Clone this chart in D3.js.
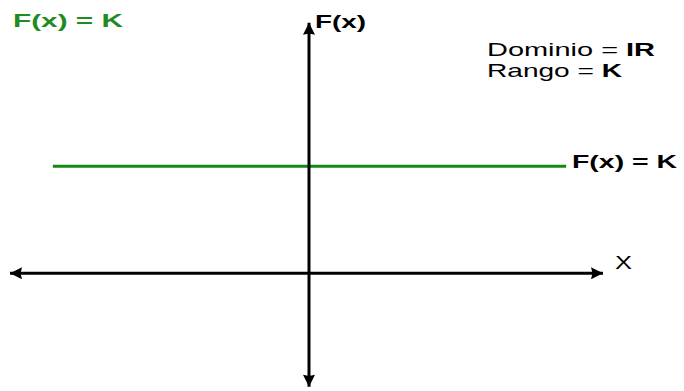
<!DOCTYPE html>
<html>
<head>
<meta charset="utf-8">
<script src="https://cdn.jsdelivr.net/npm/d3@7"></script>
<style>
  body { margin: 0; background: #fff; }
  text { font-family: "Liberation Sans", Arial, sans-serif; }
</style>
</head>
<body>
<div id="chart"></div>
<script>
// Data: constant function F(x) = K
let K = 2;
let xDomain = [-6, 6];
let yDomain = [-2.5, 5];
let xAxisEnds = [-6, 5.9];      // horizontal axis arrow tips
let yAxisEnds = [-2.12, 4.68];  // vertical axis arrow tips
let lineExtent = [-5.14, 5.16]; // where the green line is drawn

// Layout
let width = 684;
let height = 391;

let xScale = d3.scaleLinear().domain(xDomain).range([10, 608]);
let yScale = d3.scaleLinear().domain(yDomain).range([407, 5.75]);

let svg = d3.select("#chart")
  .append("svg")
  .attr("width", width)
  .attr("height", height);

// arrow head marker
svg.append("defs").append("marker")
  .attr("id", "arrow")
  .attr("viewBox", "0 0 10 10")
  .attr("refX", 10)
  .attr("refY", 5)
  .attr("markerUnits", "userSpaceOnUse")
  .attr("markerWidth", 15)
  .attr("markerHeight", 12)
  .attr("orient", "auto-start-reverse")
  .append("path")
  .attr("d", "M0,0L10,5L0,10L1.2,5Z")
  .attr("fill", "#000");

// Green constant line
svg.append("line")
  .attr("x1", xScale(lineExtent[0]))
  .attr("x2", xScale(lineExtent[1]))
  .attr("y1", yScale(K))
  .attr("y2", yScale(K))
  .attr("stroke", "#128a12")
  .attr("stroke-width", 3);

// X axis (both directions)
svg.append("line")
  .attr("x1", xScale(xAxisEnds[0]))
  .attr("x2", xScale(xAxisEnds[1]))
  .attr("y1", yScale(0))
  .attr("y2", yScale(0))
  .attr("stroke", "#000")
  .attr("stroke-width", 3)
  .attr("marker-start", "url(#arrow)")
  .attr("marker-end", "url(#arrow)");

// Y axis (both directions)
svg.append("line")
  .attr("x1", xScale(0))
  .attr("x2", xScale(0))
  .attr("y1", yScale(yAxisEnds[0]))
  .attr("y2", yScale(yAxisEnds[1]))
  .attr("stroke", "#000")
  .attr("stroke-width", 3)
  .attr("marker-start", "url(#arrow)")
  .attr("marker-end", "url(#arrow)");

// Labels
function label(x, y, parts, len, color) {
  let t = svg.append("text")
    .attr("x", x)
    .attr("y", y)
    .attr("font-size", 19)
    .attr("fill", color)
    .attr("textLength", len)
    .attr("lengthAdjust", "spacingAndGlyphs");
  parts.forEach(p => {
    t.append("tspan")
      .attr("font-weight", p[1] ? "bold" : "normal")
      .text(p[0]);
  });
}

label(13, 27, [["F(x) = K", true]], 110, "#1e8c1e");
label(315, 28, [["F(x)", true]], 51, "#000");
label(487, 56, [["Dominio = ", false], ["IR", true]], 168, "#000");
label(487, 77, [["Rango = ", false], ["K", true]], 135, "#000");
label(572, 168, [["F(x) = K", true]], 105, "#000");
label(615, 269, [["X", false]], 17, "#000");
</script>
</body>
</html>
